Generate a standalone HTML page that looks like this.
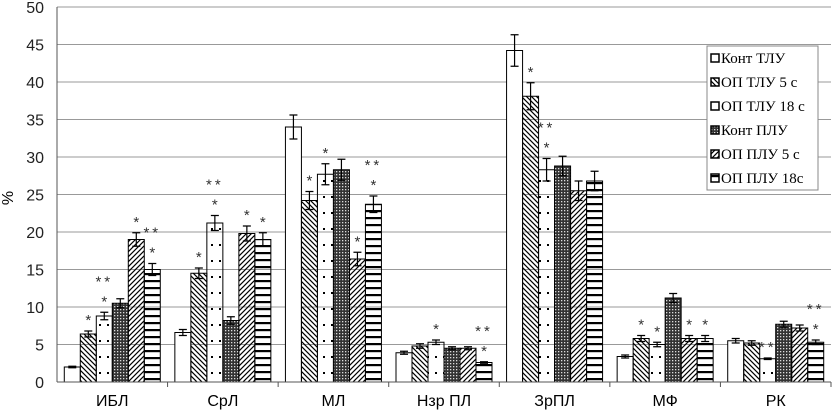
<!DOCTYPE html>
<html><head><meta charset="utf-8"><style>
body{margin:0;background:#fff;}
svg{display:block;font-family:"Liberation Sans",sans-serif;}
</style></head><body>
<svg id="chart" width="832" height="411" xmlns="http://www.w3.org/2000/svg">
<defs>
<pattern id="p1" patternUnits="userSpaceOnUse" width="5" height="5"><path d="M-1,-1 L6,6 M-1,4 L1,6 M4,-1 L6,1" stroke="#000" stroke-width="1.2"/></pattern>
<pattern id="p2" patternUnits="userSpaceOnUse" width="8" height="16"><rect x="3" y="4" width="2" height="2" fill="#000"/></pattern>
<pattern id="p3" patternUnits="userSpaceOnUse" width="3" height="3"><rect width="3" height="3" fill="#333"/><rect x="0" y="0" width="1.3" height="1.3" fill="#ddd"/></pattern>
<pattern id="p4" patternUnits="userSpaceOnUse" width="5" height="5"><path d="M-1,6 L6,-1 M-1,1 L1,-1 M4,6 L6,4" stroke="#000" stroke-width="1.2"/></pattern>
<pattern id="p5" patternUnits="userSpaceOnUse" width="10" height="7"><rect y="0" width="10" height="2.2" fill="#000"/></pattern>
</defs>
<g id="grid"></g><g id="bars"></g><g id="axes"></g><g id="legend"></g>
</svg>
<script>
const categories=["ИБЛ","СрЛ","МЛ","Нзр ПЛ","ЗрПЛ","МФ","РК"];
const seriesNames=["Конт ТЛУ","ОП ТЛУ 5 с","ОП ТЛУ 18 с","Конт ПЛУ","ОП ПЛУ 5 с","ОП ПЛУ 18с"];
const s0=[2.0,6.6,34.0,3.9,44.2,3.4,5.5];
const s1=[6.4,14.5,24.2,4.8,38.1,5.8,5.2];
const s2=[8.8,21.2,27.7,5.3,28.3,5.0,3.1];
const s3=[10.5,8.2,28.3,4.5,28.8,11.2,7.7];
const s4=[19.0,19.8,16.4,4.5,25.5,5.8,7.2];
const s5=[15.0,19.0,23.7,2.6,26.8,5.8,5.3];
const e0=[0.1,0.4,1.6,0.2,2.1,0.2,0.3];
const e1=[0.4,0.7,1.2,0.3,1.8,0.4,0.3];
const e2=[0.5,1.0,1.4,0.3,1.5,0.3,0.1];
const e3=[0.6,0.5,1.4,0.2,1.3,0.6,0.4];
const e4=[0.9,1.0,0.9,0.2,1.3,0.4,0.4];
const e5=[0.8,0.9,1.1,0.1,1.3,0.4,0.3];
const m0=["","","","","","",""];
const m1=["*","*","*","","*","*",""];
const m2=["**|*","**|*","*","*","**|*","*","**"];
const m3=["","","","","","",""];
const m4=["*","*","*","","","*",""];
const m5=["**|*","*","**|*","**|*","","*","**|*"];
const yTicks=[0,5,10,15,20,25,30,35,40,45,50];
const series=[s0,s1,s2,s3,s4,s5],errs=[e0,e1,e2,e3,e4,e5],marks=[m0,m1,m2,m3,m4,m5];
const fills=["#fff","url(#p1)","url(#p2)","url(#p3)","url(#p4)","url(#p5)"];
const X0=57,X1=831,Y0=382,Y1=7;
const y=v=>Y0-(v/50)*(Y0-Y1);
const gw=(X1-X0)/categories.length;
const bw=16;
const bx=(g,i)=>X0+g*gw+(gw-6*bw)/2+i*bw;
const NS="http://www.w3.org/2000/svg";
function mk(parent,tag,attrs,text){const e=document.createElementNS(NS,tag);for(const k in attrs)e.setAttribute(k,attrs[k]);if(text!==undefined)e.textContent=text;document.getElementById(parent).appendChild(e);return e;}
yTicks.forEach(t=>{
 if(t>0){const l=mk("grid","line",{x1:X0,x2:X1,y1:y(t),y2:y(t),stroke:"#999","stroke-width":1});
 
 }
 const tx=mk("axes","text",{x:44,y:y(t)+6,"text-anchor":"end","font-size":16,fill:"#222"},String(t));
 
 
});
const yl=mk("axes","text",{x:13,y:198,"text-anchor":"middle","font-size":16,transform:"rotate(-90 13 198)"},"%");


const ax=mk("axes","line",{x1:X0,x2:X1,y1:Y0,y2:Y0,stroke:"#555"});


const ay=mk("axes","line",{x1:X0,x2:X0,y1:Y1,y2:Y0,stroke:"#555"});


categories.forEach((c,g)=>{
 const t=mk("axes","text",{x:X0+g*gw+gw/2,y:406,"text-anchor":"middle","font-size":16},c);
 
 
 const tk=mk("axes","line",{x1:X0+(g+1)*gw,x2:X0+(g+1)*gw,y1:Y0,y2:Y0+5,stroke:"#555"});
 
 
 series.forEach((s,i)=>{
  const x=bx(g,i),v=s[g],e=errs[i][g];
  const r=mk("bars","rect",{x:x,y:y(v),width:bw,height:Y0-y(v),fill:fills[i],stroke:"#000","stroke-width":1});
  
  
  const cx=x+bw/2;
  const eb=mk("bars","path",{d:`M${cx-4},${y(v+e)}H${cx+4}M${cx},${y(v+e)}V${y(v-e)}M${cx-4},${y(v-e)}H${cx+4}`,stroke:"#000","stroke-width":1.2,fill:"none"});
  
  
  const m=marks[i][g];
  if(m){const parts=m.split("|");
   parts.forEach((p,k)=>{
    const ty=y(v+e)-6-(parts.length-1-k)*20;
    const st=mk("bars","text",{x:cx,y:ty,"text-anchor":"middle","font-size":15,fill:"#333","letter-spacing":p.length>1?3:0},p);
    
    
   });}
 });
});
const lb=mk("legend","rect",{x:707,y:46,width:111,height:144,fill:"#fff",stroke:"#888"});


seriesNames.forEach((n,i)=>{
 const yy=58+i*24;
 const sw=mk("legend","rect",{x:711,y:yy-4,width:8,height:8,fill:fills[i],stroke:"#000","stroke-width":1.5});
 
 
 const t=mk("legend","text",{x:721,y:yy+5,"font-size":15,"font-family":"Liberation Serif, serif"},n);
 
 
});
</script>
</body></html>
